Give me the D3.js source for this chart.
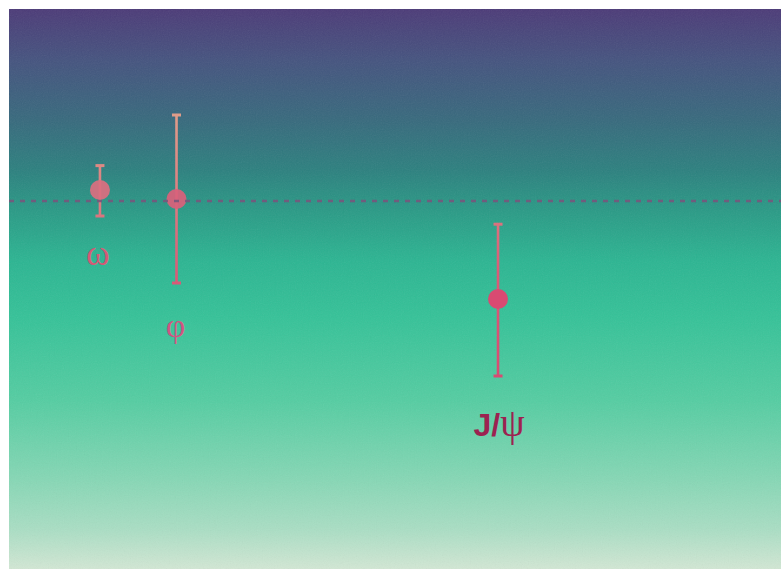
<!DOCTYPE html>
<html>
<head>
<meta charset="utf-8">
<script src="https://cdn.jsdelivr.net/npm/d3@7/dist/d3.min.js"></script>
<style>
  html, body { margin: 0; padding: 0; background: #ffffff; }
  svg { display: block; }
</style>
</head>
<body>
<div id="chart"></div>
<script>
// Vector mesons: mass (MeV) and measured ratio with asymmetric uncertainties
const particles = ["ω", "φ", "J/ψ"];
const masses = [782, 1019, 3097];
const ratios = [1.055, 1.01, 0.51];
const errLow = [0.13, 0.42, 0.385];
const errHigh = [0.122, 0.42, 0.374];
const referenceLevel = 1.0;

const W = 781, H = 569;
const panel = { x: 9, y: 9, w: 772, h: 560 };

const svg = d3.select("#chart").append("svg")
  .attr("width", W).attr("height", H);

const defs = svg.append("defs");

// background vertical gradient
const bg = defs.append("linearGradient")
  .attr("id", "bg").attr("x1", 0).attr("y1", 0).attr("x2", 0).attr("y2", 1);
[
  [0.00, "#4c3b78"], [0.09, "#45537f"], [0.20, "#376a7d"],
  [0.29, "#2c817f"], [0.36, "#2a9a86"], [0.45, "#2cb592"],
  [0.55, "#35c298"], [0.70, "#55cda2"], [0.84, "#86d7b5"],
  [0.93, "#aadec4"], [1.00, "#d2e7d4"]
].forEach(([o, c]) => bg.append("stop").attr("offset", o).attr("stop-color", c));

// error bar tint shifts with height
const barGrad = defs.append("linearGradient")
  .attr("id", "bar").attr("gradientUnits", "userSpaceOnUse")
  .attr("x1", 0).attr("y1", 110).attr("x2", 0).attr("y2", 380);
[[0, "#e09e8a"], [0.35, "#dc7a80"], [0.6, "#d95c78"], [1, "#d84a72"]]
  .forEach(([o, c]) => barGrad.append("stop").attr("offset", o).attr("stop-color", c));

// film grain
const grain = defs.append("filter").attr("id", "grain")
  .attr("x", 0).attr("y", 0).attr("width", "100%").attr("height", "100%");
grain.append("feTurbulence").attr("type", "fractalNoise")
  .attr("baseFrequency", 0.85).attr("numOctaves", 2).attr("seed", 3).attr("result", "n");
grain.append("feColorMatrix").attr("type", "saturate").attr("values", 0);

svg.append("rect")
  .attr("x", panel.x).attr("y", panel.y)
  .attr("width", panel.w).attr("height", panel.h)
  .attr("fill", "url(#bg)");

svg.append("rect")
  .attr("x", panel.x).attr("y", panel.y)
  .attr("width", panel.w).attr("height", panel.h)
  .attr("filter", "url(#grain)")
  .attr("opacity", 0.09);

// scales: log of mass horizontally, ratio vertically
const x = d3.scaleLog().domain([571, 8210]).range([panel.x, 780]);
const y = d3.scaleLinear().domain([0, 2]).range([401, 1]);

const data = particles.map((p, i) => ({
  name: p, m: masses[i], v: ratios[i], lo: ratios[i] - errLow[i], hi: ratios[i] + errHigh[i]
}));

const markerFill = ["#da6f80", "#d9617b", "#d94a72"];
const markerOpacity = [0.93, 0.93, 1];

const g = svg.append("g");

// error bars
g.selectAll("line.err").data(data).join("line")
  .attr("class", "err")
  .attr("x1", d => x(d.m)).attr("x2", d => x(d.m))
  .attr("y1", d => y(d.hi)).attr("y2", d => y(d.lo))
  .attr("stroke", "url(#bar)").attr("stroke-width", 2.6);

// caps
const capW = 4.5;
["hi", "lo"].forEach(k => {
  g.selectAll("line.cap-" + k).data(data).join("line")
    .attr("class", "cap-" + k)
    .attr("x1", d => x(d.m) - capW).attr("x2", d => x(d.m) + capW)
    .attr("y1", d => y(d[k])).attr("y2", d => y(d[k]))
    .attr("stroke", "url(#bar)").attr("stroke-width", 3);
});

// markers
g.selectAll("circle.pt").data(data).join("circle")
  .attr("class", "pt")
  .attr("cx", d => x(d.m)).attr("cy", d => y(d.v))
  .attr("r", 10)
  .attr("fill", (d, i) => markerFill[i])
  .attr("fill-opacity", (d, i) => markerOpacity[i]);

// reference level
svg.append("line")
  .attr("x1", panel.x).attr("x2", panel.x + panel.w)
  .attr("y1", y(referenceLevel)).attr("y2", y(referenceLevel))
  .attr("stroke", "#77567c").attr("stroke-opacity", 0.9)
  .attr("stroke-width", 2.5).attr("stroke-dasharray", "5,6");

// particle labels
const serif = "'Liberation Serif', 'DejaVu Serif', serif";
svg.append("text")
  .attr("x", x(masses[0]) - 2).attr("y", 265)
  .attr("text-anchor", "middle")
  .attr("font-family", serif).attr("font-size", 36)
  .attr("fill", "#d35a76")
  .text(particles[0]);

svg.append("text")
  .attr("x", x(masses[1]) - 1).attr("y", 337)
  .attr("text-anchor", "middle")
  .attr("font-family", serif).attr("font-size", 34)
  .attr("fill", "#cf5582")
  .text(particles[1]);

const jl = svg.append("text")
  .attr("x", x(masses[2]) + 1).attr("y", 436)
  .attr("text-anchor", "middle")
  .attr("fill", "#9c2250");
jl.append("tspan")
  .attr("font-family", "'Liberation Sans', 'DejaVu Sans', sans-serif").attr("font-weight", "bold")
  .attr("font-size", 32)
  .text(particles[2].slice(0, 2));
jl.append("tspan")
  .attr("font-family", serif).attr("font-size", 39)
  .text(particles[2].slice(2));
</script>
</body>
</html>
